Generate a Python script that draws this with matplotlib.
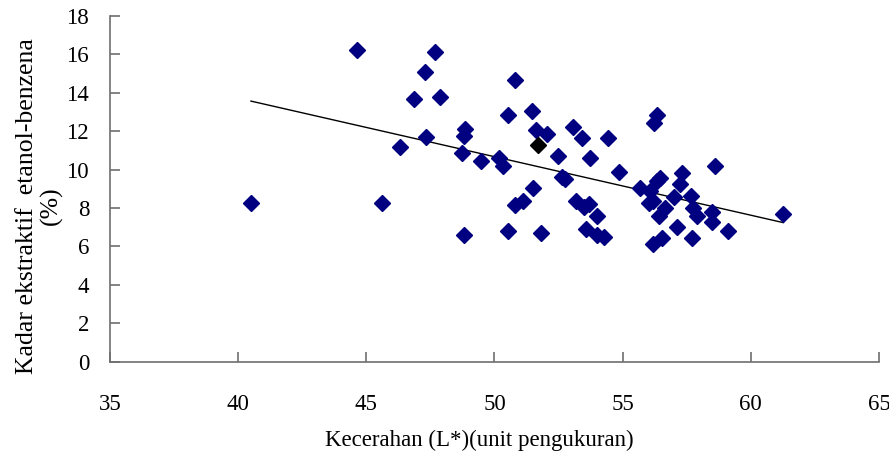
import numpy as np
import matplotlib.pyplot as plt

# lightness L* vs ethanol-benzene extractive content
kecerahan = [40.50, 44.63, 45.60, 46.31, 46.87, 47.28, 47.33, 47.69, 47.86, 48.75,
             48.86, 48.80, 48.80, 49.46, 50.17, 50.34, 50.52, 50.52, 50.81, 50.82,
             51.11, 51.46, 51.52, 51.64, 51.70, 51.82, 52.06, 52.47, 52.65, 52.74,
             53.06, 53.17, 53.41, 53.51, 53.67, 53.59, 53.71, 54.01, 53.99, 54.29,
             54.41, 54.84, 55.66, 56.07, 56.02, 56.17, 56.19, 56.24, 56.36, 56.34,
             56.47, 56.41, 56.66, 56.54, 57.02, 57.12, 57.30, 57.24, 57.67, 57.73,
             57.89, 57.71, 58.47, 58.47, 58.60, 59.12, 61.27]
ekstraktif = [8.26, 16.22, 8.26, 11.16, 13.69, 15.07, 11.71, 16.12, 13.80, 10.88,
              12.10, 11.75, 6.59, 10.46, 10.62, 10.19, 12.83, 6.82, 14.66, 8.16,
              8.37, 13.03, 9.03, 12.06, 11.27, 6.72, 11.85, 10.71, 9.63, 9.51,
              12.23, 8.37, 11.66, 8.07, 8.21, 6.92, 10.59, 7.58, 6.60, 6.51,
              11.66, 9.89, 9.06, 8.89, 8.28, 8.37, 6.13, 12.41, 12.86, 9.42,
              9.55, 7.58, 7.99, 6.42, 8.59, 7.00, 9.84, 9.25, 8.63, 7.99,
              7.58, 6.42, 7.81, 7.29, 10.20, 6.82, 7.69]
# one point is shown selected (black) in the original
selected = 24

x = np.array(kecerahan)
y = np.array(ekstraktif)

plt.rcParams['font.family'] = ['Liberation Serif', 'DejaVu Serif']

fig = plt.figure(figsize=(8.89, 4.61), dpi=100)
ax = fig.add_axes([0.1237, 0.2154, 0.865, 0.750])

mask = np.arange(len(x)) != selected
ax.plot(x[mask], y[mask], 'D', color='#000080', markersize=8, zorder=3)
ax.plot(x[selected], y[selected], 'D', color='#000000', markersize=8, zorder=3)

# linear trend line
k, b = np.polyfit(x, y, 1)
xs = np.array([x.min(), x.max()])
ax.plot(xs, k * xs + b, color='black', linewidth=1.0, zorder=2)

ax.set_xlim(35, 65)
ax.set_ylim(0, 18)
ax.set_xticks(range(35, 66, 5))
ax.set_yticks(range(0, 19, 2))

for s in ['top', 'right']:
    ax.spines[s].set_visible(False)
for s in ['left', 'bottom']:
    ax.spines[s].set_color('#6e6e6e')
    ax.spines[s].set_linewidth(1.2)
ax.tick_params(direction='in', length=7, width=1.2, color='#6e6e6e', labelsize=16.5)
ax.tick_params(axis='y', pad=15)
ax.tick_params(axis='x', pad=23)

ax.set_xlabel('Kecerahan (L*)(unit pengukuran)', fontsize=16.5)
ax.xaxis.set_label_coords(0.48, -0.198)
ax.set_ylabel('Kadar ekstraktif  etanol-benzena\n(%)', fontsize=18.5, linespacing=1.1)
ax.yaxis.set_label_coords(-0.061, 0.45)

plt.savefig('out.png')
